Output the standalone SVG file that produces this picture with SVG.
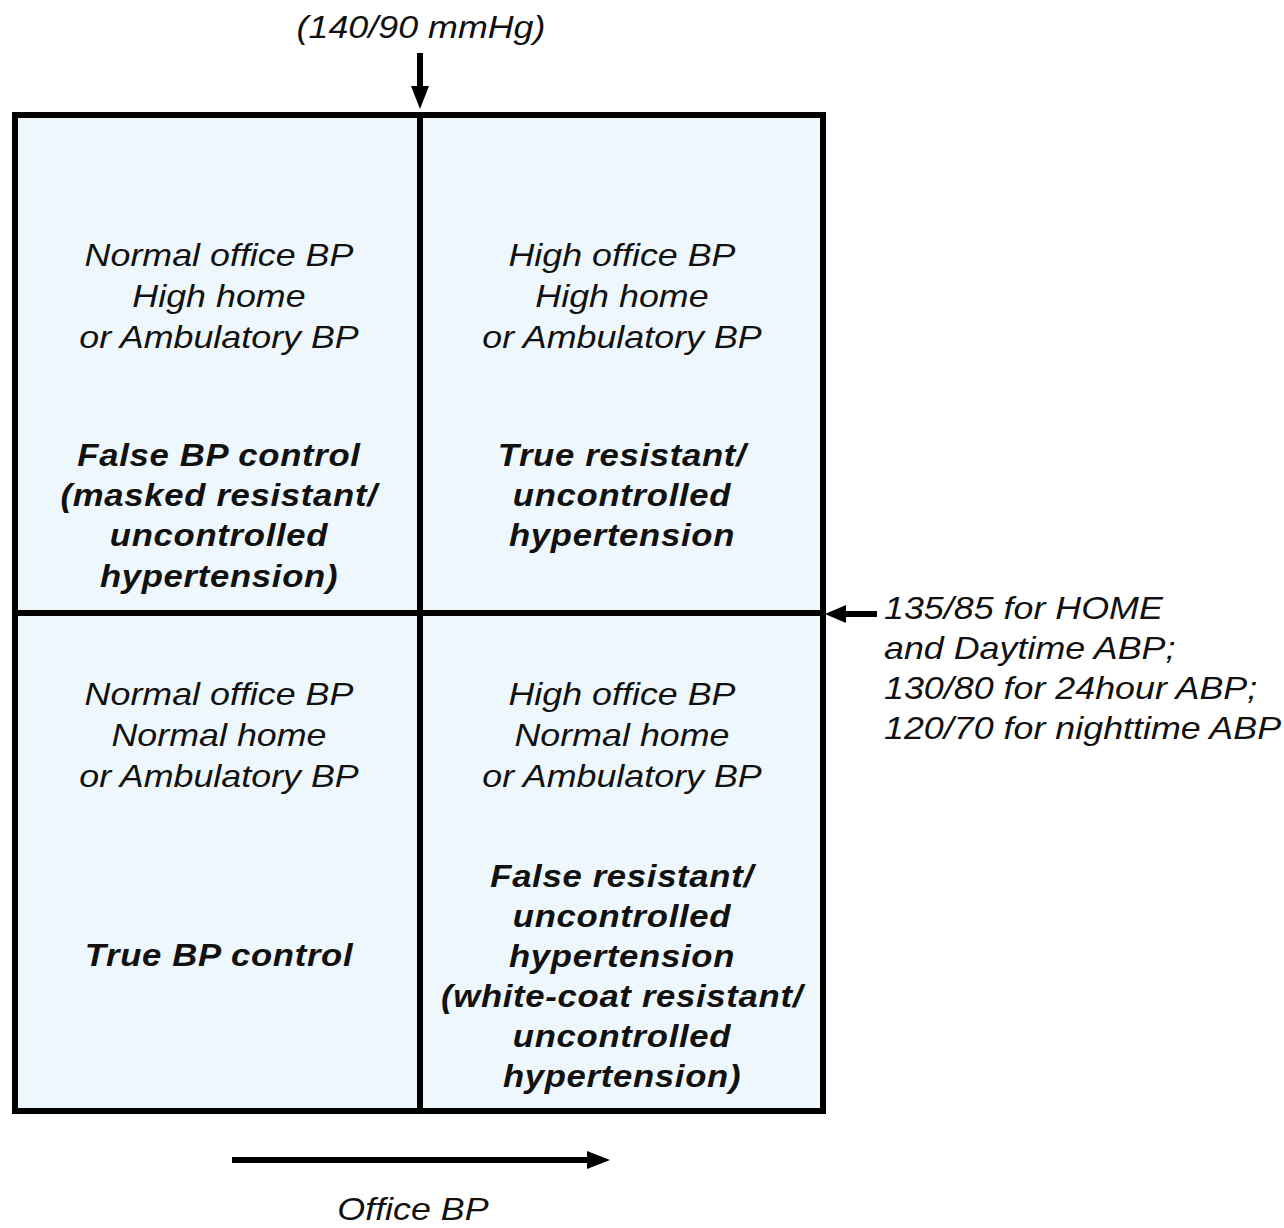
<svg xmlns="http://www.w3.org/2000/svg" width="1284" height="1228" viewBox="0 0 1284 1228">
<style>
text{font-family:"Liberation Sans",Arial,sans-serif;font-style:italic;fill:#111;text-anchor:middle}
.n{font-size:32px}
.b{font-size:31px;font-weight:bold;letter-spacing:0.6px}
.r{text-anchor:start;font-size:32px}
.ln{stroke:#000;stroke-width:6;fill:none}
.arr{fill:#000}
</style>
<rect x="0" y="0" width="1284" height="1228" fill="#fff"/>
<g id="grid">
<rect x="15" y="115" width="808" height="996" fill="#eef7fb" stroke="#000" stroke-width="6"/>
<line class="ln" x1="420" y1="115" x2="420" y2="1111"/>
<line class="ln" x1="15" y1="613" x2="823" y2="613"/>
</g>
<g id="q-top-left" transform="translate(219,0) scale(1.12,1)">
<text class="n" x="0" y="266">Normal office BP</text>
<text class="n" x="0" y="307">High home</text>
<text class="n" x="0" y="348">or Ambulatory BP</text>
<text class="b" x="0" y="466">False BP control</text>
<text class="b" x="0" y="506">(masked resistant/</text>
<text class="b" x="0" y="546">uncontrolled</text>
<text class="b" x="0" y="587">hypertension)</text>
</g>
<g id="q-top-right" transform="translate(622,0) scale(1.12,1)">
<text class="n" x="0" y="266">High office BP</text>
<text class="n" x="0" y="307">High home</text>
<text class="n" x="0" y="348">or Ambulatory BP</text>
<text class="b" x="0" y="466">True resistant/</text>
<text class="b" x="0" y="506">uncontrolled</text>
<text class="b" x="0" y="546">hypertension</text>
</g>
<g id="q-bottom-left" transform="translate(219,0) scale(1.12,1)">
<text class="n" x="0" y="705">Normal office BP</text>
<text class="n" x="0" y="746">Normal home</text>
<text class="n" x="0" y="787">or Ambulatory BP</text>
<text class="b" x="0" y="966">True BP control</text>
</g>
<g id="q-bottom-right" transform="translate(622,0) scale(1.12,1)">
<text class="n" x="0" y="705">High office BP</text>
<text class="n" x="0" y="746">Normal home</text>
<text class="n" x="0" y="787">or Ambulatory BP</text>
<text class="b" x="0" y="887">False resistant/</text>
<text class="b" x="0" y="927">uncontrolled</text>
<text class="b" x="0" y="967">hypertension</text>
<text class="b" x="0" y="1007">(white-coat resistant/</text>
<text class="b" x="0" y="1047">uncontrolled</text>
<text class="b" x="0" y="1087">hypertension)</text>
</g>
<g id="top-label" transform="translate(421,0) scale(1.12,1)">
<text class="n" x="0" y="38">(140/90 mmHg)</text>
</g>
<g id="right-label" transform="translate(884,0) scale(1.12,1)">
<text class="r" x="0" y="619">135/85 for HOME</text>
<text class="r" x="0" y="659">and Daytime ABP;</text>
<text class="r" x="0" y="699">130/80 for 24hour ABP;</text>
<text class="r" x="0" y="739">120/70 for nighttime ABP</text>
</g>
<g id="bottom-label" transform="translate(413,0) scale(1.12,1)">
<text class="n" x="0" y="1220">Office BP</text>
</g>
<g id="connectors">
<rect class="arr" x="417" y="53" width="6" height="36"/>
<polygon class="arr" points="411,86 429,86 420,109"/>
<rect class="arr" x="842" y="611" width="35" height="6"/>
<polygon class="arr" points="825,614 846,605 846,623"/>
<rect class="arr" x="232" y="1157" width="358" height="6"/>
<polygon class="arr" points="587,1151 610,1160 587,1169"/>
</g>
</svg>
